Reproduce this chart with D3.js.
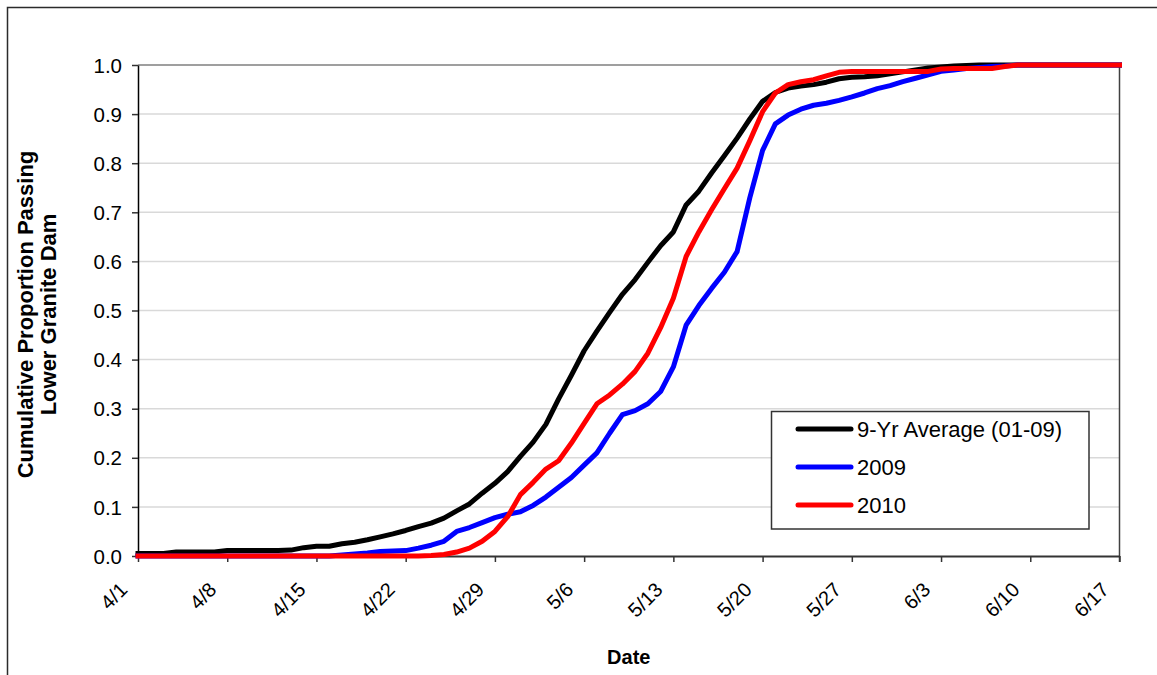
<!DOCTYPE html>
<html>
<head>
<meta charset="utf-8">
<script src="https://cdn.jsdelivr.net/npm/d3@7"></script>
<style>
  html, body { margin: 0; padding: 0; background: #fff; }
  svg { display: block; font-family: "Liberation Sans", Arial, sans-serif; }
</style>
</head>
<body>
<svg id="chart" width="1157" height="675"></svg>
<script>
// ---------------- data ----------------
const startDate = "2010-04-01";   // first day of daily series (index 0)
const tickLabels = ["4/1","4/8","4/15","4/22","4/29","5/6","5/13","5/20","5/27","6/3","6/10","6/17"];
const yTicks = [0, 0.1, 0.2, 0.3, 0.4, 0.5, 0.6, 0.7, 0.8, 0.9, 1.0];
const seriesNames = ["9-Yr Average (01-09)", "2009", "2010"];
const seriesColors = ["#000000", "#0000ff", "#ff0000"];

// daily cumulative proportion, 4/1 .. 6/17
const avg0109 = [
  0.005,0.005,0.005,0.008,0.008,0.008,0.008,0.011,0.011,0.011,
  0.011,0.011,0.012,0.017,0.020,0.020,0.025,0.028,0.033,0.039,
  0.045,0.052,0.060,0.067,0.077,0.092,0.106,0.128,0.148,0.172,
  0.203,0.232,0.268,0.320,0.368,0.418,0.458,0.496,0.533,0.563,
  0.598,0.632,0.660,0.715,0.743,0.780,0.815,0.851,0.890,0.926,
  0.944,0.953,0.957,0.960,0.965,0.972,0.975,0.976,0.978,0.982,
  0.986,0.990,0.994,0.996,0.998,0.999,1.000,1.000,1.000,1.000,
  1.000,1.000,1.000,1.000,1.000,1.000,1.000,1.000
];
const y2009 = [
  0,0,0,0,0,0,0,0,0,0,
  0,0,0,0,0,0,0.002,0.004,0.006,0.009,
  0.010,0.011,0.016,0.022,0.030,0.050,0.058,0.068,0.078,0.085,
  0.090,0.103,0.120,0.140,0.160,0.185,0.210,0.250,0.288,0.296,
  0.310,0.335,0.385,0.470,0.510,0.545,0.578,0.620,0.730,0.826,
  0.880,0.898,0.910,0.918,0.922,0.928,0.935,0.943,0.952,0.958,
  0.966,0.973,0.980,0.987,0.990,0.993,0.995,0.997,0.998,1.000,
  1.000,1.000,1.000,1.000,1.000,1.000,1.000,1.000
];
const y2010 = [
  0,0,0,0,0,0,0,0,0,0,
  0,0,0,0,0,0,0,0,0,0,
  0,0,0,0.001,0.003,0.008,0.016,0.030,0.050,0.080,
  0.125,0.150,0.177,0.194,0.230,0.270,0.310,0.328,0.350,0.376,
  0.413,0.465,0.525,0.610,0.660,0.705,0.748,0.790,0.846,0.905,
  0.943,0.960,0.966,0.970,0.978,0.985,0.987,0.987,0.987,0.987,
  0.987,0.987,0.987,0.992,0.993,0.993,0.993,0.993,0.997,1.000,
  1.000,1.000,1.000,1.000,1.000,1.000,1.000,1.000
];
const seriesValues = [avg0109, y2009, y2010];

// ---------------- layout ----------------
const svg = d3.select("#chart");
const L = 138, R = 1119.5, T = 65, B = 556;
const parseDay = d3.timeParse("%Y-%m-%d");
const t0 = parseDay(startDate);
const dayDate = i => d3.timeDay.offset(t0, i);
const tickDates = tickLabels.map(s => d3.timeParse("%m/%d/%Y")(s + "/2010"));

const x = d3.scaleTime().domain([tickDates[0], tickDates[tickDates.length - 1]]).range([L, R]);
const y = d3.scaleLinear().domain([0, 1]).range([B, T]);

// outer chart border
svg.append("rect")
  .attr("x", 7.5).attr("y", 7.5).attr("width", 1170).attr("height", 700)
  .attr("fill", "none").attr("stroke", "#2b2b2b").attr("stroke-width", 1.5);

// gridlines
svg.append("g").selectAll("line").data(yTicks.filter(v => v > 0 && v < 1)).join("line")
  .attr("x1", L).attr("x2", R)
  .attr("y1", d => y(d)).attr("y2", d => y(d))
  .attr("stroke", "#d9d9d9").attr("stroke-width", 1.5);

// plot frame top / right
svg.append("line").attr("x1", L).attr("x2", R).attr("y1", T).attr("y2", T)
  .attr("stroke", "#7f7f7f").attr("stroke-width", 1.5);
svg.append("line").attr("x1", R).attr("x2", R).attr("y1", T).attr("y2", B + 6)
  .attr("stroke", "#404040").attr("stroke-width", 1.5);

// x axis
const xAxis = svg.append("g").attr("transform", `translate(0,${B})`)
  .call(d3.axisBottom(x).tickValues(tickDates).tickFormat((d, i) => tickLabels[i])
        .tickSize(6).tickSizeOuter(0));
xAxis.select(".domain").attr("stroke", "#333").attr("stroke-width", 2);
xAxis.selectAll(".tick line").attr("stroke", "#333").attr("stroke-width", 1.5);
xAxis.selectAll(".tick text")
  .attr("x", null).attr("y", null).attr("dy", null)
  .attr("text-anchor", "end")
  .attr("transform", "translate(-10,35) rotate(-45)")
  .attr("fill", "#000")
  .style("font-size", "20px")
  .style("font-family", "'Liberation Sans', Arial, sans-serif");

// y axis
const yAxis = svg.append("g").attr("transform", `translate(${L},0)`)
  .call(d3.axisLeft(y).tickValues(yTicks).tickFormat(d3.format(".1f"))
        .tickSize(6).tickSizeOuter(0));
yAxis.select(".domain").attr("stroke", "#000").attr("stroke-width", 1.5);
yAxis.selectAll(".tick line").attr("stroke", "#333").attr("stroke-width", 1.5);
yAxis.selectAll(".tick text")
  .attr("x", -16).attr("dy", "0.35em")
  .attr("fill", "#000")
  .style("font-size", "20.5px")
  .style("font-family", "'Liberation Sans', Arial, sans-serif");

// series lines
const line = d3.line().x((d, i) => x(dayDate(i))).y(d => y(d));
svg.append("g").selectAll("path").data(seriesValues).join("path")
  .attr("d", d => line(d))
  .attr("fill", "none")
  .attr("stroke", (d, i) => seriesColors[i])
  .attr("stroke-width", 5)
  .attr("stroke-linejoin", "round")
  .attr("stroke-linecap", "square");

// axis titles
svg.append("text")
  .attr("x", (L + R) / 2).attr("y", 664)
  .attr("text-anchor", "middle")
  .style("font-size", "20px").style("font-weight", "bold")
  .text("Date");

const yTitle = svg.append("text")
  .attr("transform", `translate(0,${(T + B) / 2 + 4}) rotate(-90)`)
  .attr("text-anchor", "middle")
  .style("font-size", "22px").style("font-weight", "bold");
yTitle.append("tspan").attr("x", 0).attr("y", 33).text("Cumulative Proportion Passing");
yTitle.append("tspan").attr("x", 0).attr("y", 56).text("Lower Granite Dam");

// legend
const lg = svg.append("g");
lg.append("rect")
  .attr("x", 771.5).attr("y", 411.5).attr("width", 317.5).attr("height", 117.5)
  .attr("fill", "#fff").attr("stroke", "#333").attr("stroke-width", 1.5);
const legendRowY = [429, 467, 505];
seriesNames.forEach((name, i) => {
  lg.append("line")
    .attr("x1", 798).attr("x2", 851)
    .attr("y1", legendRowY[i]).attr("y2", legendRowY[i])
    .attr("stroke", seriesColors[i]).attr("stroke-width", 5)
    .attr("stroke-linecap", "round");
  lg.append("text")
    .attr("x", 857).attr("y", legendRowY[i]).attr("dy", "0.36em")
    .style("font-size", "22px")
    .text(name);
});
</script>
</body>
</html>
